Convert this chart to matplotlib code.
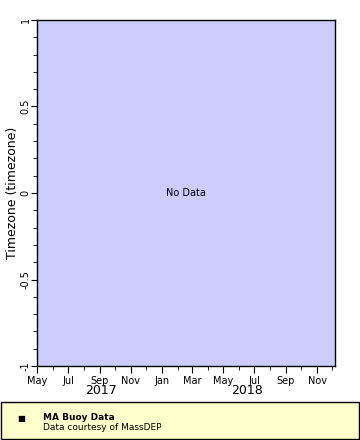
import numpy as np
import matplotlib
matplotlib.use("Agg")
import matplotlib.pyplot as plt
import matplotlib.dates as mdates
from matplotlib.patches import Rectangle
import datetime as dt

# data (empty - station has no timezone data)
times = []
values = []
x_start = dt.datetime(2017, 5, 1)
x_end = dt.datetime(2018, 12, 6)
y_range = [-1, 1]
year_labels = ["2017", "2018"]
year_pos = [dt.datetime(2017, 9, 3), dt.datetime(2018, 6, 17)]
legend_title = "MA Buoy Data"
legend_sub = "Data courtesy of MassDEP"

plt.rcParams['font.family'] = ['DejaVu Sans']
fig = plt.figure(figsize=(3.6, 4.4), dpi=100)
W, H = 360., 440.
ax = fig.add_axes([37/W, 1-366/H, (335-37)/W, (366-20)/H])
ax.set_facecolor('#ccccff')
ax.plot(times, values, 's', color='k')
ax.set_xlim(x_start, x_end)
ax.set_ylim(y_range)

ax.xaxis.set_major_locator(mdates.MonthLocator(bymonth=[1, 3, 5, 7, 9, 11]))
ax.xaxis.set_minor_locator(mdates.MonthLocator())
ax.xaxis.set_major_formatter(mdates.DateFormatter('%b'))
ax.yaxis.set_major_locator(plt.MultipleLocator(0.5))
ax.yaxis.set_minor_locator(plt.MultipleLocator(0.1))
ax.yaxis.set_major_formatter(plt.FuncFormatter(lambda v, p: '%g' % v))
ax.tick_params(which='both', direction='out', labelsize=7, top=False, right=False)
ax.tick_params(axis='x', which='major', length=5, pad=2)
ax.tick_params(axis='y', which='major', length=4, pad=0.5)
ax.tick_params(which='minor', length=3)
for lab in ax.get_yticklabels():
    lab.set_rotation(90)
    lab.set_va('center')
for s in ax.spines.values():
    s.set_linewidth(1.0)
ax.set_ylabel('Timezone (timezone)', fontsize=9)
ax.yaxis.set_label_coords(-18/298, 0.5)
ax.text(0.5, 0.5, 'No Data', transform=ax.transAxes, ha='center', va='center', fontsize=7)

for lab, pos in zip(year_labels, year_pos):
    ax.text(pos, -25/346, lab, transform=ax.get_xaxis_transform(), ha='center', va='center', fontsize=9)

# legend box
fig.patches.append(Rectangle((0.5/W, 1-439/H), 358.5/W, 37/H, transform=fig.transFigure,
                             facecolor='#ffffcc', edgecolor='k', linewidth=1.0))
fig.text(21/W, 1-418/H, '\u25a0', ha='center', va='center', fontsize=6)
fig.text(43/W, 1-417.5/H, legend_title, fontsize=6.5, fontweight='bold', va='center')
fig.text(43/W, 1-427/H, legend_sub, fontsize=6.5, va='center')

fig.savefig('out.png', dpi=100)
